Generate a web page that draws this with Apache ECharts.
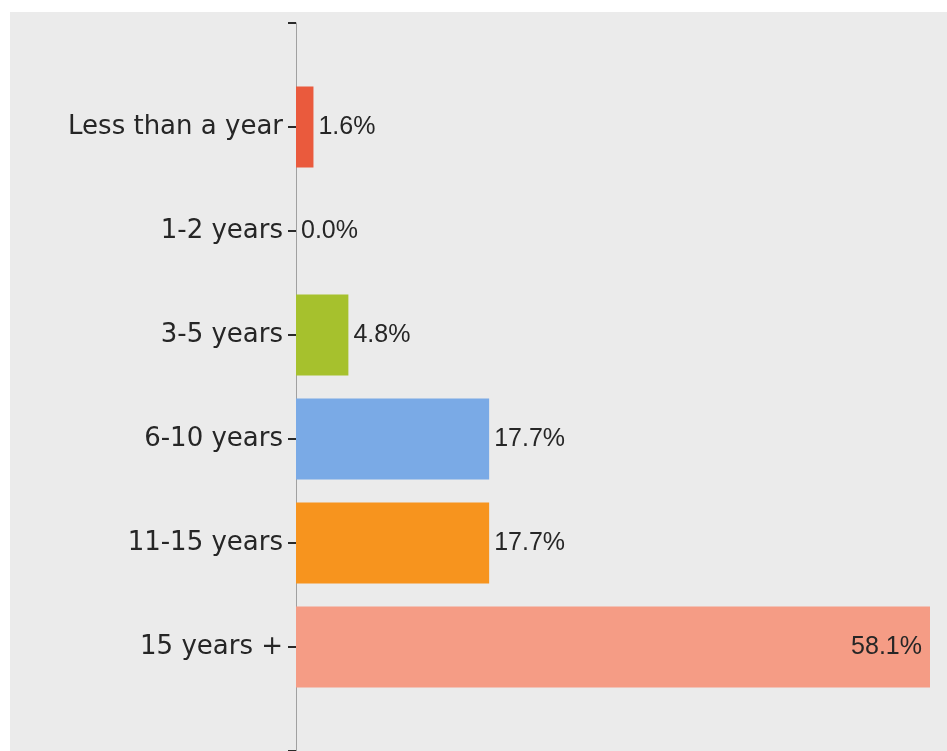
<!DOCTYPE html>
<html>
<head>
<meta charset="utf-8">
<script src="https://cdn.jsdelivr.net/npm/echarts@6/dist/echarts.min.js"></script>
<style>
  html, body { margin: 0; padding: 0; background: #ffffff; }
  #chart { position: absolute; left: 10px; top: 12px; width: 937px; height: 739px; background: #ebebeb; }
</style>
</head>
<body>
<div id="chart"></div>
<script>
const categories = ['Less than a year', '1-2 years', '3-5 years', '6-10 years', '11-15 years', '15 years +'];
const values = [1.6, 0.0, 4.8, 17.7, 17.7, 58.1];
const colors = ['#ea5a3d', '#e8e8e8', '#a6c12d', '#7aaae6', '#f7941e', '#f59c85'];

const maxVal = Math.max.apply(null, values);
// pad the category axis with empty end slots so ticks sit at both ends
const axisData = [''].concat(categories, ['']);
const seriesData = [null].concat(values.map(function (v, i) {
  const item = { value: v, itemStyle: { color: colors[i] } };
  if (v === maxVal) {
    item.label = { position: 'insideRight', distance: 8 };
  }
  return item;
}), [null]);

const chart = echarts.init(document.getElementById('chart'), null, { renderer: 'canvas' });
chart.setOption({
  animation: false,
  backgroundColor: '#ebebeb',
  grid: { left: 286, right: 17, top: 11, bottom: 0, containLabel: false },
  xAxis: {
    type: 'value',
    min: 0,
    max: 'dataMax',
    show: false
  },
  yAxis: {
    type: 'category',
    inverse: true,
    boundaryGap: false,
    data: axisData,
    axisLine: { show: true, lineStyle: { color: '#a0a0a0', width: 1 } },
    axisTick: { show: true, length: 8, lineStyle: { color: '#2a2a2a', width: 2 } },
    axisLabel: {
      margin: 13,
      color: '#262626',
      fontFamily: 'DejaVu Sans',
      fontSize: 26
    },
    splitLine: { show: false }
  },
  series: [{
    type: 'bar',
    data: seriesData,
    barWidth: 81,
    label: {
      show: true,
      position: 'right',
      distance: 5,
      color: '#262626',
      fontFamily: 'Liberation Sans',
      fontSize: 25,
      formatter: function (p) { return p.value.toFixed(1) + '%'; }
    }
  }]
});
</script>
</body>
</html>
